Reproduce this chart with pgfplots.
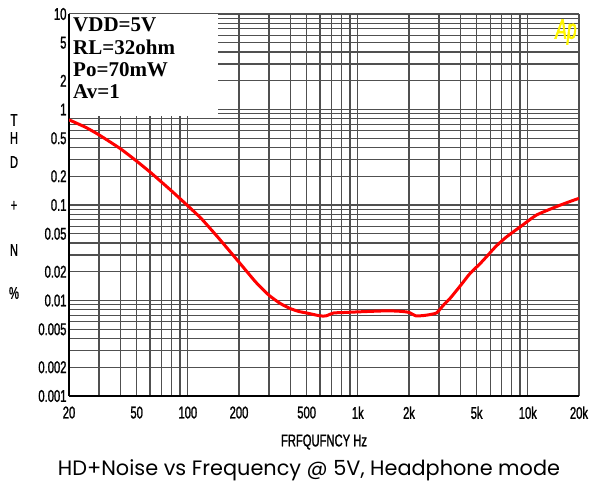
\documentclass[border=0pt]{standalone}
\usepackage{pgfplots}
\pgfplotsset{compat=1.18}
\usepackage{fontspec}
\setmainfont{Liberation Serif}
\newfontfamily\narrow[FakeStretch=0.66, FakeBold=1.2]{Liberation Sans}
\newfontfamily\apfont[FakeStretch=0.62, FakeBold=2]{Liberation Sans}
\newfontfamily\capfont{Poppins}
\definecolor{apyellow}{RGB}{255,245,0}
\definecolor{gridgray}{RGB}{80,80,80}

\begin{document}
\begin{tikzpicture}
\useasboundingbox (0,0) rectangle (596pt,486pt);
\begin{axis}[
    at={(69pt,90pt)}, anchor=south west,
    scale only axis, width=510pt, height=382pt,
    xmode=log, ymode=log,
    xmin=20, xmax=20000, ymin=0.001, ymax=10,
    xtick={20,30,40,50,60,70,80,90,100,200,300,400,500,600,700,800,900,
           1000,2000,3000,4000,5000,6000,7000,8000,9000,10000,20000},
    xticklabels={20,,,50,,,,,100,200,,,500,,,,,1k,2k,,,5k,,,,,10k,20k},
    ytick={0.001,0.002,0.003,0.004,0.005,0.006,0.007,0.008,0.009,
           0.01,0.02,0.03,0.04,0.05,0.06,0.07,0.08,0.09,
           0.1,0.2,0.3,0.4,0.5,0.6,0.7,0.8,0.9,
           1,2,3,4,5,6,7,8,9,10},
    yticklabels={0.001,0.002,,,0.005,,,,,0.01,0.02,,,0.05,,,,,
                 0.1,0.2,,,0.5,,,,,1,2,,,5,,,,,10},
    major tick length=0pt, minor tick num=0,
    grid=major,
    major grid style={gridgray, line width=1.25pt},
    axis lines*=left,
    axis line style={black, line width=1.3pt},
    tick label style={font=\narrow\fontsize{17}{17}\selectfont},
    xticklabel style={anchor=north, yshift=-7pt},
    yticklabel style={anchor=east, xshift=1pt},
]
% white box holding the test conditions, hides the grid
\fill[white] (axis cs:20,0.86) rectangle (axis cs:150,10);
\draw[black, line width=1.3pt] (axis cs:20,0.86) -- (axis cs:20,10);

\addplot[red, line width=3pt, smooth, tension=0.3] coordinates {
    (20,0.78) (25,0.652) (30,0.543) (40,0.39) (50,0.288) (60,0.221)
    (70,0.174) (80,0.141) (100,0.098) (120,0.0721) (150,0.0461)
    (200,0.0252) (250,0.0157) (300,0.01135) (350,0.0093) (400,0.00824)
    (450,0.00767) (500,0.0074) (600,0.0069) (650,0.0069) (720,0.0074)
    (850,0.0075) (1000,0.0076) (1200,0.0077) (1500,0.0078) (1800,0.0077)
    (2000,0.0075) (2200,0.0069) (2500,0.0070) (2900,0.0074) (3200,0.009)
    (3500,0.0106) (4000,0.0142) (4570,0.0192) (5200,0.024) (5720,0.0288)
    (6500,0.037) (7520,0.0466) (9000,0.0589) (11240,0.0785) (14700,0.096)
    (17000,0.106) (20000,0.1175)
};
\end{axis}

% test conditions
\begin{scope}[every node/.style={anchor=west, inner sep=0pt,
    font=\bfseries\fontsize{21}{21}\selectfont}]
\node at (73pt,461pt) {VDD=5V};
\node at (73pt,439pt) {RL=32ohm};
\node at (73pt,416pt) {Po=70mW};
\node at (73pt,394pt) {Av=1};
\end{scope}

% Ap logo
\node[anchor=center, inner sep=0pt, text=apyellow,
      font=\apfont\itshape\fontsize{28}{28}\selectfont]
      at (566pt,454pt) {Ap};

% axis titles
\begin{scope}[every node/.style={anchor=center, inner sep=0pt,
    font=\narrow\fontsize{17}{17}\selectfont}]
\node at (14pt,366pt) {T};
\node at (14pt,348pt) {H};
\node at (14pt,324pt) {D};
\node at (14pt,280pt) {+};
\node at (14pt,236pt) {N};
\node at (14pt,193pt) {\%};
\node at (324pt,44pt) {FRFQUFNCY Hz};
\end{scope}

% caption
\node[anchor=center, inner sep=0pt] at (309pt,16pt)
    {\resizebox{502pt}{!}{\capfont HD+Noise vs Frequency @ 5V, Headphone mode}};
\end{tikzpicture}
\end{document}
